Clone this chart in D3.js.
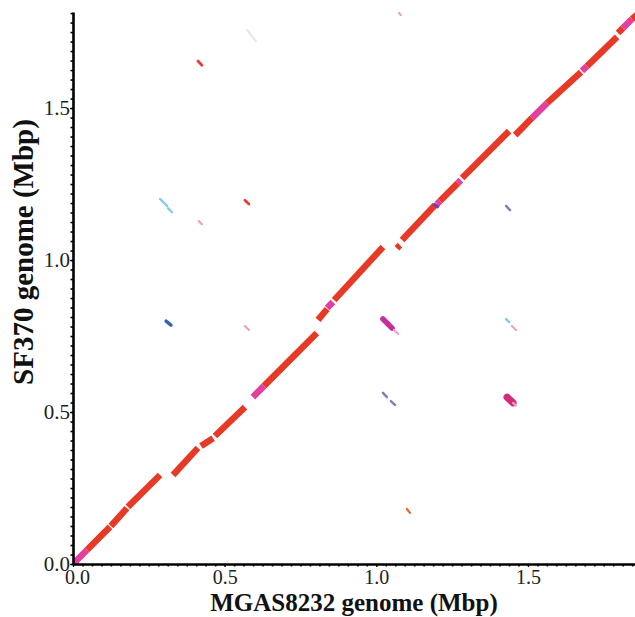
<!DOCTYPE html>
<html>
<head>
<meta charset="utf-8">
<script src="https://cdn.jsdelivr.net/npm/d3@7"></script>
<style>
  body { margin: 0; background: #fff; }
  text { font-family: "Liberation Serif", "Times New Roman", serif; }
</style>
</head>
<body>
<div id="plot"></div>
<script>
"use strict"

// Main diagonal hits: [MGAS8232 start, SF370 start, MGAS8232 end, SF370 end, kind] (Mbp)
const diagonalHits = [
    [0.000, 0.000, 0.046, 0.046, "mid"],
    [0.046, 0.046, 0.122, 0.122, "high"],
    [0.125, 0.125, 0.178, 0.184, "high"],
    [0.181, 0.188, 0.287, 0.293, "high"],
    [0.330, 0.293, 0.412, 0.382, "high"],
    [0.422, 0.388, 0.462, 0.414, "high"],
    [0.468, 0.421, 0.567, 0.516, "high"],
    [0.593, 0.549, 0.630, 0.586, "mid"],
    [0.630, 0.586, 0.804, 0.760, "high"],
    [0.808, 0.803, 0.838, 0.839, "high"],
    [0.838, 0.842, 0.857, 0.862, "mid"],
    [0.861, 0.868, 1.022, 1.043, "high"],
    [1.068, 1.039, 1.078, 1.049, "high"],
    [1.085, 1.066, 1.194, 1.181, "high"],
    [1.194, 1.174, 1.200, 1.184, "low"],
    [1.200, 1.184, 1.210, 1.194, "mid"],
    [1.210, 1.194, 1.269, 1.253, "high"],
    [1.269, 1.253, 1.279, 1.263, "mid"],
    [1.283, 1.270, 1.438, 1.424, "high"],
    [1.458, 1.411, 1.513, 1.467, "high"],
    [1.513, 1.467, 1.563, 1.516, "mid"],
    [1.563, 1.516, 1.675, 1.618, "high"],
    [1.678, 1.622, 1.695, 1.638, "mid"],
    [1.695, 1.638, 1.794, 1.734, "high"],
    [1.797, 1.747, 1.813, 1.763, "high"],
    [1.813, 1.763, 1.843, 1.793, "mid"],
    [1.843, 1.793, 1.862, 1.809, "high"]
];

// Scattered repeat hits away from the diagonal
const repeatHits = [
    [1.075, 1.813, 1.081, 1.806, "pink"],
    [0.412, 1.655, 0.425, 1.641, "red"],
    [0.574, 1.757, 0.603, 1.720, "faint"],
    [0.287, 1.201, 0.310, 1.178, "sky"],
    [0.313, 1.171, 0.326, 1.158, "sky"],
    [0.415, 1.128, 0.425, 1.118, "pink"],
    [0.567, 1.197, 0.580, 1.184, "red"],
    [1.428, 1.178, 1.441, 1.164, "grey"],
    [0.307, 0.799, 0.323, 0.786, "blue"],
    [0.567, 0.783, 0.580, 0.770, "pink"],
    [1.022, 0.806, 1.052, 0.776, "violet"],
    [1.058, 0.770, 1.072, 0.757, "pink"],
    [1.428, 0.806, 1.438, 0.796, "sky"],
    [1.447, 0.783, 1.461, 0.770, "pink"],
    [1.022, 0.563, 1.035, 0.549, "grey"],
    [1.048, 0.536, 1.062, 0.523, "grey"],
    [1.431, 0.549, 1.451, 0.530, "rose"],
    [1.451, 0.530, 1.461, 0.521, "pink"],
    [1.101, 0.181, 1.111, 0.168, "orange"]
];

const tickValues = [0, 0.5, 1.0, 1.5];
const xTitle = "MGAS8232 genome (Mbp)";
const yTitle = "SF370 genome (Mbp)";

const hitStyle = {
    high:   {color: "#e63a26", width: 6.5},
    mid:    {color: "#e2409c", width: 6.5},
    low:    {color: "#7a3aa8", width: 6.5},
    violet: {color: "#c2309e", width: 5.5},
    rose:   {color: "#d42c7c", width: 7},
    blue:   {color: "#3a64b2", width: 3.5},
    sky:    {color: "#8ccaee", width: 2.5},
    pink:   {color: "#eea2c2", width: 2.2},
    red:    {color: "#dc4238", width: 2.8},
    grey:   {color: "#8a78b6", width: 2.4},
    orange: {color: "#e8682e", width: 2.2},
    faint:  {color: "#dde6ef", width: 2}
};

const figWidth = 635;
const figHeight = 617;

const xScale = d3.scaleLinear().domain([0, 1.855]).range([73, 635.6]);
const yScale = d3.scaleLinear().domain([0, 1.816]).range([564, 12]);

let svg = d3.select("#plot").append("svg")
    .attr("width", figWidth)
    .attr("height", figHeight);

svg.append("clipPath").attr("id", "clip")
    .append("rect")
    .attr("x", xScale(0)).attr("y", 0)
    .attr("width", figWidth - xScale(0)).attr("height", yScale(0));

let hits = svg.append("g").attr("clip-path", "url(#clip)");

hits.selectAll(".repeat")
    .data(repeatHits)
    .enter().append("line")
        .attr("class", "repeat")
        .attr("x1", d => xScale(d[0]))
        .attr("y1", d => yScale(d[1]))
        .attr("x2", d => xScale(d[2]))
        .attr("y2", d => yScale(d[3]))
        .attr("stroke", d => hitStyle[d[4]].color)
        .attr("stroke-width", d => hitStyle[d[4]].width)
        .attr("stroke-linecap", "round");

hits.selectAll(".diag")
    .data(diagonalHits)
    .enter().append("line")
        .attr("class", "diag")
        .attr("x1", d => xScale(d[0]))
        .attr("y1", d => yScale(d[1]))
        .attr("x2", d => xScale(d[2]))
        .attr("y2", d => yScale(d[3]))
        .attr("stroke", d => hitStyle[d[4]].color)
        .attr("stroke-width", d => hitStyle[d[4]].width)
        .attr("stroke-linecap", "butt");

// minor ticks (small dots outside the axes)
const minorTicks = d3.range(0, 1.86, 0.5 / 16);

svg.append("g")
    .attr("transform", `translate(0, ${yScale(0)})`)
    .call(d3.axisBottom(xScale).tickValues(minorTicks).tickSize(2.5).tickFormat("").tickSizeOuter(0))
    .call(g => g.select(".domain").remove())
    .call(g => g.selectAll("line").attr("stroke-width", 1.6));

svg.append("g")
    .attr("transform", `translate(${xScale(0)}, 0)`)
    .call(d3.axisLeft(yScale).tickValues(minorTicks.filter(v => v <= 1.816)).tickSize(2.5).tickFormat("").tickSizeOuter(0))
    .call(g => g.select(".domain").remove())
    .call(g => g.selectAll("line").attr("stroke-width", 1.6));

// main axes
let xAxis = svg.append("g")
    .attr("transform", `translate(0, ${yScale(0)})`)
    .call(d3.axisBottom(xScale).tickValues(tickValues).tickSize(3).tickSizeOuter(0)
        .tickPadding(3).tickFormat(d3.format(".1f")));
xAxis.select(".domain").attr("stroke-width", 2.6);
xAxis.selectAll(".tick text")
    .attr("font-size", 20)
    .attr("fill", "#222")
    .attr("font-family", "'Liberation Serif', serif")
    .attr("dx", d => d === 0 ? 4 : 0);

let yAxis = svg.append("g")
    .attr("transform", `translate(${xScale(0)}, 0)`)
    .call(d3.axisLeft(yScale).tickValues(tickValues).tickSize(3).tickSizeOuter(0)
        .tickPadding(0).tickFormat(d3.format(".1f")));
yAxis.select(".domain").attr("stroke-width", 2.6);
yAxis.selectAll(".tick text")
    .attr("font-size", 21)
    .attr("fill", "#222")
    .attr("font-family", "'Liberation Serif', serif")
    .attr("dy", "0.3em");

// axis titles
svg.append("text")
    .attr("x", 354)
    .attr("y", 611)
    .attr("text-anchor", "middle")
    .attr("font-size", 25)
    .attr("font-weight", "bold")
    .attr("fill", "#111")
    .text(xTitle);

svg.append("text")
    .attr("transform", "translate(33, 252) rotate(-90)")
    .attr("text-anchor", "middle")
    .attr("font-size", 29)
    .attr("font-weight", "bold")
    .attr("fill", "#111")
    .text(yTitle);
</script>
</body>
</html>
